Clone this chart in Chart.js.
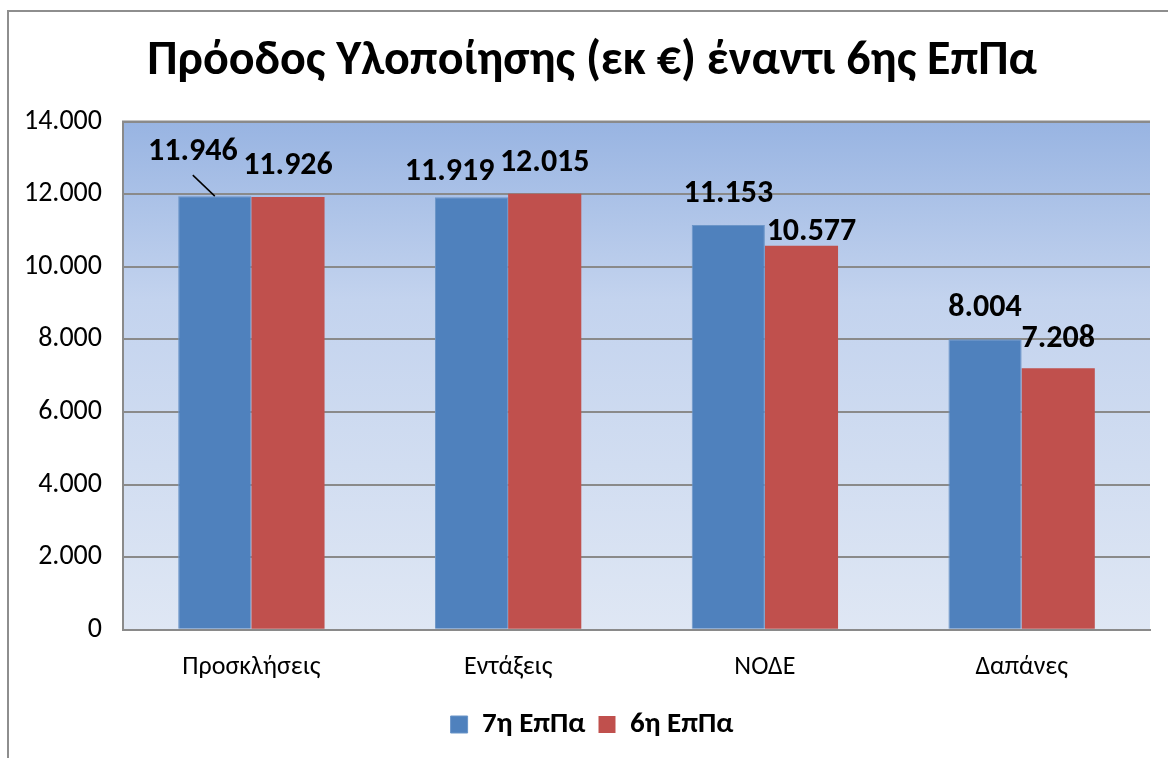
<!DOCTYPE html>
<html>
<head>
<meta charset="utf-8">
<script src="https://cdn.jsdelivr.net/npm/chart.js@4"></script>
<style>
  html, body { margin: 0; padding: 0; background: #fff; }
  #wrap { position: relative; width: 1168px; height: 758px; overflow: hidden; }
  #frame { position: absolute; left: 7px; top: 10px; width: 1300px; height: 900px; border: 2px solid #8e8e8e; box-sizing: border-box; }
  canvas { position: absolute; left: 0; top: 0; }
</style>
</head>
<body>
<div id="wrap">
  <div id="frame"></div>
  <canvas id="bars" width="1168" height="758"></canvas>
</div>
<script>
const categories = ['Προσκλήσεις', 'Εντάξεις', 'ΝΟΔΕ', 'Δαπάνες'];
const series7 = [11946, 11919, 11153, 8004];
const series6 = [11926, 12015, 10577, 7208];
const yTicks = [0, 2000, 4000, 6000, 8000, 10000, 12000, 14000];
// label nudges (dx, dy) copied from the Excel auto-placement
const nudge7 = [[-22, -13], [-22, 6], [0, 0], [0, 0]];
const nudge6 = [[0, 0], [0, 0], [10, 17], [0, 2]];

const FONT = "Carlito, 'Open Sans', sans-serif";
const fmt = v => String(v).replace(/\B(?=(\d{3})+(?!\d))/g, '.');

const plotBg = {
  id: 'plotBg',
  beforeDraw(chart) {
    const { ctx, chartArea: a } = chart;
    const g = ctx.createLinearGradient(0, a.top, 0, a.bottom);
    g.addColorStop(0, '#98b4e2');
    g.addColorStop(0.35, '#c3d3ee');
    g.addColorStop(1, '#dfe7f4');
    ctx.save();
    ctx.fillStyle = g;
    ctx.fillRect(a.left, a.top, a.right - a.left, a.bottom - a.top);
    ctx.strokeStyle = '#8a8a8a';
    ctx.lineWidth = 2;
    ctx.beginPath();
    ctx.moveTo(a.left, a.bottom);
    ctx.lineTo(a.left, a.top);
    ctx.lineTo(a.right, a.top);
    ctx.stroke();
    ctx.restore();
  }
};

const barLabels = {
  id: 'barLabels',
  afterDatasetsDraw(chart) {
    const ctx = chart.ctx;
    const nudges = [nudge7, nudge6];
    ctx.save();
    ctx.font = "bold 32px " + FONT;
    ctx.fillStyle = '#000';
    ctx.textAlign = 'center';
    ctx.textBaseline = 'middle';
    chart.data.datasets.forEach((ds, i) => {
      chart.getDatasetMeta(i).data.forEach((bar, j) => {
        const [dx, dy] = nudges[i][j];
        const x = bar.x + dx, y = bar.y - 31 + dy;
        ctx.fillText(fmt(ds.data[j]), x, y);
        if (i === 0 && j === 0) {
          ctx.strokeStyle = '#000';
          ctx.lineWidth = 1.5;
          ctx.beginPath();
          ctx.moveTo(x, y + 23);
          ctx.lineTo(bar.x, bar.y);
          ctx.stroke();
        }
      });
    });
    ctx.restore();
  }
};

new Chart(document.getElementById('bars'), {
  type: 'bar',
  data: {
    labels: categories,
    datasets: [
      { label: '7η ΕπΠα', data: series7, backgroundColor: '#4f81bd', borderColor: '#6b95c8', borderWidth: 1 },
      { label: '6η ΕπΠα', data: series6, backgroundColor: '#c0504d', borderColor: '#c0504d', borderWidth: 0 }
    ]
  },
  options: {
    responsive: false,
    animation: false,
    devicePixelRatio: 1,
    categoryPercentage: 0.57,
    barPercentage: 1,
    layout: { padding: { left: 34, right: 18, top: 12, bottom: 9 } },
    plugins: {
      title: {
        display: true,
        text: 'Πρόοδος Υλοποίησης (εκ €) έναντι 6ης ΕπΠα',
        color: '#000',
        font: { family: FONT, size: 48, weight: 'bold' },
        padding: { top: 21, bottom: 31 }
      },
      legend: {
        position: 'bottom',
        labels: {
          color: '#000',
          font: { family: FONT, size: 29, weight: 'bold' },
          boxWidth: 17, boxHeight: 17, padding: 13
        }
      },
      tooltip: { enabled: false }
    },
    scales: {
      x: {
        grid: { display: false },
        border: { display: true, color: '#8a8a8a', width: 2 },
        ticks: { color: '#000', font: { family: FONT, size: 26 }, padding: 14 }
      },
      y: {
        min: 0, max: 14000,
        afterBuildTicks: s => { s.ticks = yTicks.map(v => ({ value: v })); },
        afterFit: s => {
          s.width = 89;
          // let the tick labels run a little past the left padding
          s._computeLabelArea = () => undefined;
        },
        grid: { color: '#8a8a8a', lineWidth: 2, drawTicks: false },
        border: { display: false },
        ticks: { color: '#000', font: { family: FONT, size: 28 }, padding: 21, callback: v => fmt(v) }
      }
    }
  },
  plugins: [plotBg, barLabels]
});
</script>
</body>
</html>
